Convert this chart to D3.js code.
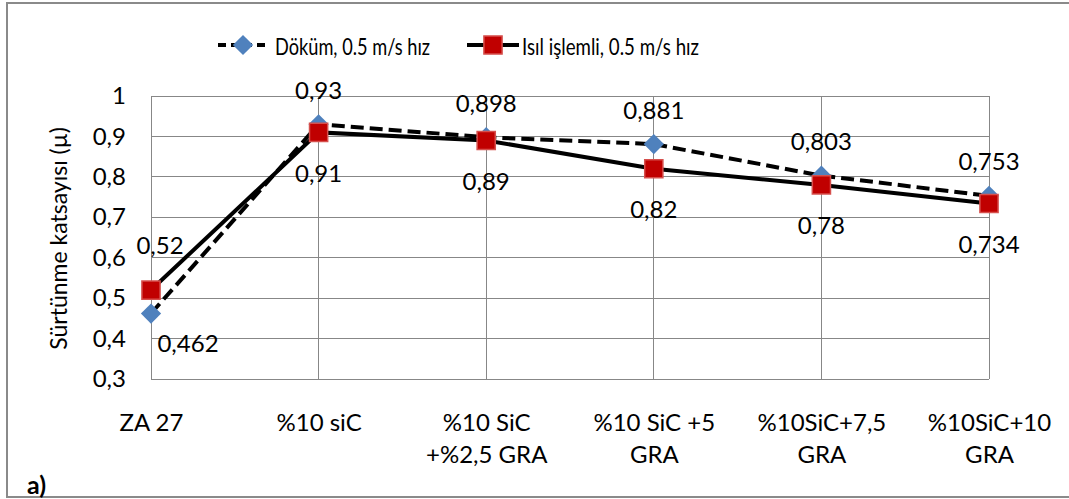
<!DOCTYPE html>
<html>
<head>
<meta charset="utf-8">
<script src="https://cdn.jsdelivr.net/npm/d3@7"></script>
<style>
  body { margin: 0; background: #fff; }
  svg { display: block; }
  text { font-family: Lato, "Open Sans", sans-serif; fill: #000; }
</style>
</head>
<body>
<svg id="chart" width="1069" height="499"></svg>
<script>
// Friction coefficient per material composition
const categories = ["ZA 27", "%10 siC", "%10 SiC\n+%2,5 GRA", "%10 SiC +5\nGRA", "%10SiC+7,5\nGRA", "%10SiC+10\nGRA"];
const dokum = [0.462, 0.93, 0.898, 0.881, 0.803, 0.753];
const isil = [0.52, 0.91, 0.89, 0.82, 0.78, 0.734];
const yTicks = [0.3, 0.4, 0.5, 0.6, 0.7, 0.8, 0.9, 1];
const seriesNames = ["Döküm, 0.5 m/s hız", "Isıl işlemli, 0.5 m/s hız"];
const yTitle = "Sürtünme katsayısı (µ)";
const panelTag = "a)";

const svg = d3.select("#chart");
const W = 1069, H = 499;
const plot = { left: 151, right: 989, top: 96, bottom: 379 };

const GRID = "#878787";
const BLUE = "#4F81BD";
const RED = "#C00000";
const RED_EDGE = "#D6504D";
const FS = 24;

const x = d3.scalePoint().domain(categories).range([plot.left, plot.right]);
const y = d3.scaleLinear().domain([0.3, 1]).range([plot.bottom, plot.top]);
const fmt = d => d3.format("~g")(d).replace(".", ",");

// outer frame
svg.append("rect")
  .attr("x", 7).attr("y", 3).attr("width", W + 20).attr("height", 494)
  .attr("fill", "none").attr("stroke", "#8a8a8a").attr("stroke-width", 2);

// gridlines
const grid = svg.append("g").attr("shape-rendering", "crispEdges")
  .attr("stroke", GRID).attr("stroke-width", 1);
grid.selectAll("line.h").data(yTicks).join("line").attr("class", "h")
  .attr("x1", plot.left).attr("x2", plot.right)
  .attr("y1", d => y(d)).attr("y2", d => y(d));
grid.selectAll("line.v").data(categories).join("line").attr("class", "v")
  .attr("x1", d => x(d)).attr("x2", d => x(d))
  .attr("y1", plot.top).attr("y2", plot.bottom);

// y axis
const yAxis = svg.append("g")
  .attr("transform", `translate(${plot.left},0)`)
  .call(d3.axisLeft(y).tickValues(yTicks).tickFormat(fmt).tickSize(0).tickPadding(25));
yAxis.select(".domain").remove();
yAxis.selectAll("text").attr("font-size", FS).attr("font-family", "Lato").attr("fill", "#000");

// x axis
const xAxis = svg.append("g")
  .attr("transform", `translate(0,${plot.bottom})`)
  .call(d3.axisBottom(x).tickSize(0));
xAxis.select(".domain").remove();
xAxis.selectAll("text").each(function(d) {
  const t = d3.select(this).text("").attr("y", 0).attr("dy", null)
    .attr("font-size", FS).attr("font-family", "Lato").attr("fill", "#000");
  d.split("\n").forEach((line, i) => {
    t.append("tspan").attr("x", 0).attr("y", 52 + i * 32).text(line);
  });
});

// y title
svg.append("text")
  .attr("transform", `translate(58,${(plot.top + plot.bottom) / 2 + 1}) rotate(-90)`)
  .attr("text-anchor", "middle").attr("dominant-baseline", "central")
  .attr("font-size", 23).text(yTitle);

// lines
const line = d3.line().x((d, i) => x(categories[i])).y(d => y(d));
svg.append("path").datum(dokum).attr("d", line)
  .attr("fill", "none").attr("stroke", "#000").attr("stroke-width", 4)
  .attr("stroke-dasharray", "13,6");

const diamond = d3.symbol(d3.symbolSquare, 205);
const square = d3.symbol(d3.symbolSquare, 330);

svg.append("g").selectAll("path").data(dokum).join("path")
  .attr("d", diamond)
  .attr("transform", (d, i) => `translate(${x(categories[i])},${y(d)}) rotate(45)`)
  .attr("fill", BLUE);

svg.append("path").datum(isil).attr("d", line)
  .attr("fill", "none").attr("stroke", "#000").attr("stroke-width", 4);

svg.append("g").selectAll("path").data(isil).join("path")
  .attr("d", square)
  .attr("transform", (d, i) => `translate(${x(categories[i])},${y(d)})`)
  .attr("fill", RED).attr("stroke", RED_EDGE).attr("stroke-width", 1.5);

// data labels: cast series above, heat-treated below (first point offset aside)
const labels = svg.append("g").attr("font-size", FS).attr("text-anchor", "middle");
dokum.forEach((v, i) => {
  const dx = i === 0 ? 37 : 0;
  const dy = i === 0 ? 29 : -35;
  labels.append("text")
    .attr("x", x(categories[i]) + dx).attr("y", y(v) + dy)
    .attr("dominant-baseline", "central").text(fmt(v));
});
isil.forEach((v, i) => {
  const dx = i === 0 ? 9 : 0;
  const dy = i === 0 ? -46 : 40;
  labels.append("text")
    .attr("x", x(categories[i]) + dx).attr("y", y(v) + dy)
    .attr("dominant-baseline", "central").text(fmt(v));
});

// legend
const leg = svg.append("g").attr("transform", "translate(0,45)");
leg.append("line").attr("x1", 218).attr("x2", 270).attr("y1", 0).attr("y2", 0)
  .attr("stroke", "#000").attr("stroke-width", 4).attr("stroke-dasharray", "8,5");
leg.append("path").attr("d", diamond).attr("transform", "translate(243,0) rotate(45)").attr("fill", BLUE);
leg.append("text").attr("x", 275).attr("y", 0).attr("dominant-baseline", "central")
  .attr("font-size", 24).attr("textLength", 155).attr("lengthAdjust", "spacingAndGlyphs")
  .text(seriesNames[0]);
leg.append("line").attr("x1", 467).attr("x2", 519).attr("y1", 0).attr("y2", 0)
  .attr("stroke", "#000").attr("stroke-width", 4);
leg.append("path").attr("d", square).attr("transform", "translate(493,0)")
  .attr("fill", RED).attr("stroke", RED_EDGE).attr("stroke-width", 1.5);
leg.append("text").attr("x", 522).attr("y", 0).attr("dominant-baseline", "central")
  .attr("font-size", 24).attr("textLength", 177).attr("lengthAdjust", "spacingAndGlyphs")
  .text(seriesNames[1]);

// panel tag
svg.append("text").attr("x", 27).attr("y", 494)
  .attr("font-size", 25).attr("font-weight", "bold").text(panelTag);
</script>
</body>
</html>
